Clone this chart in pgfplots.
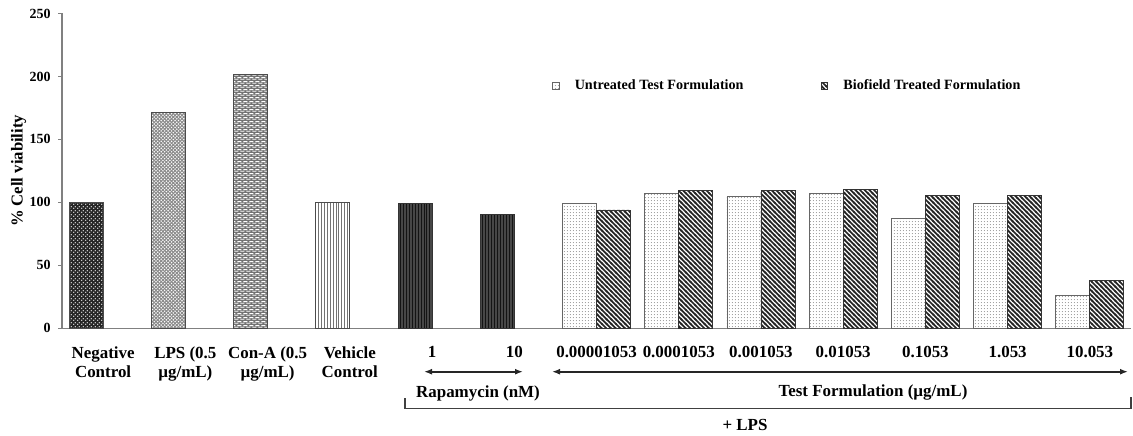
\documentclass[border=0pt]{standalone}
\usepackage{fontspec}
\setmainfont{Liberation Serif}
\usepackage{pgfplots}
\pgfplotsset{compat=1.18}
\usetikzlibrary{patterns,arrows.meta}

\pgfdeclarepatternformonly{boldnw}{\pgfqpoint{-1pt}{-1pt}}{\pgfqpoint{4.5pt}{4.5pt}}{\pgfqpoint{3.5pt}{3.5pt}}{%
  \pgfsetlinewidth{1.25pt}%
  \pgfpathmoveto{\pgfqpoint{-0.5pt}{4pt}}%
  \pgfpathlineto{\pgfqpoint{4pt}{-0.5pt}}%
  \pgfusepath{stroke}}
\pgfdeclarepatternformonly{finedots}{\pgfpointorigin}{\pgfqpoint{2.2pt}{2.2pt}}{\pgfqpoint{2.2pt}{2.2pt}}{%
  \pgfpathcircle{\pgfqpoint{1.1pt}{1.1pt}}{0.4pt}\pgfusepath{fill}}
\pgfdeclarepatternformonly{whitedots}{\pgfpointorigin}{\pgfqpoint{2.6pt}{2.6pt}}{\pgfqpoint{2.6pt}{2.6pt}}{%
  \pgfpathcircle{\pgfqpoint{0.65pt}{0.65pt}}{0.5pt}%
  \pgfpathcircle{\pgfqpoint{1.95pt}{1.95pt}}{0.5pt}\pgfusepath{fill}}
\pgfdeclarepatternformonly{lpscross}{\pgfqpoint{-0.5pt}{-0.5pt}}{\pgfqpoint{3.1pt}{3.1pt}}{\pgfqpoint{2.6pt}{2.6pt}}{%
  \pgfsetlinewidth{0.7pt}%
  \pgfpathmoveto{\pgfqpoint{-0.3pt}{-0.3pt}}\pgfpathlineto{\pgfqpoint{2.9pt}{2.9pt}}%
  \pgfpathmoveto{\pgfqpoint{-0.3pt}{2.9pt}}\pgfpathlineto{\pgfqpoint{2.9pt}{-0.3pt}}%
  \pgfusepath{stroke}}
\pgfdeclarepatternformonly{bricksmall}{\pgfpointorigin}{\pgfqpoint{4.4pt}{3pt}}{\pgfqpoint{4.4pt}{3pt}}{%
  \pgfsetlinewidth{0.8pt}%
  \pgfpathmoveto{\pgfqpoint{0.3pt}{0.75pt}}\pgfpathlineto{\pgfqpoint{3.3pt}{0.75pt}}%
  \pgfpathmoveto{\pgfqpoint{2.5pt}{2.25pt}}\pgfpathlineto{\pgfqpoint{4.4pt}{2.25pt}}%
  \pgfpathmoveto{\pgfqpoint{0pt}{2.25pt}}\pgfpathlineto{\pgfqpoint{1.1pt}{2.25pt}}%
  \pgfusepath{stroke}}
\pgfdeclarepatternformonly{vlinesfine}{\pgfqpoint{0pt}{-0.1pt}}{\pgfqpoint{2.2pt}{2.3pt}}{\pgfqpoint{2.2pt}{2.2pt}}{%
  \pgfsetlinewidth{0.55pt}%
  \pgfpathmoveto{\pgfqpoint{1.1pt}{-0.1pt}}\pgfpathlineto{\pgfqpoint{1.1pt}{2.3pt}}%
  \pgfusepath{stroke}}

\pgfplotsset{sqlegend/.style={legend image code/.code={%
  \draw[##1] (0pt,-2.4pt) rectangle (4.8pt,2.4pt);}}}

\begin{document}
\begin{tikzpicture}
\path[use as bounding box] (0,0) rectangle (849.75pt,-327pt);
\begin{axis}[
  at={(46.5pt,-246.2pt)}, anchor=south west,
  scale only axis, width=801.75pt, height=236.1pt,
  xmin=-0.5, xmax=12.5, ymin=0, ymax=250,
  axis x line*=bottom, axis y line*=left,
  axis line style={draw=black!50, line width=1pt},
  xtick={0,...,12},
  xticklabels={{Negative\\Control},{LPS (0.5\\µg/mL)},{Con-A (0.5\\µg/mL)},{Vehicle\\Control},1,10,0.00001053,0.0001053,0.001053,0.01053,0.1053,1.053,10.053},
  x tick style={draw=none},
  xticklabel style={font=\bfseries\fontsize{12.7pt}{14.6pt}\selectfont, align=center, anchor=north, yshift=-7pt},
  ytick={0,50,...,250},
  tick align=outside, major tick length=3pt,
  y tick style={draw=black!50, line width=0.8pt},
  yticklabel style={font=\bfseries\fontsize{10.5pt}{12pt}\selectfont, /pgf/number format/assume math mode=true, xshift=-2pt},
  ylabel={\% Cell viability},
  every axis y label/.style={at={(axis description cs:-0.0405,0.5)}, rotate=90, anchor=center,
    font=\bfseries\fontsize{12.5pt}{14pt}\selectfont},
  legend style={at={(0.4546,0.7697)}, anchor=west, draw=none, fill=none,
    font=\bfseries\fontsize{10.6pt}{12pt}\selectfont, legend columns=2,
    /tikz/every odd column/.append style={column sep=9.5pt},
    /tikz/every even column/.append style={column sep=56pt}},
  clip=false,
]
% single bars
\addplot[ybar, bar width=0.4135, bar shift=-0.2068, draw=black!70, line width=0.6pt,
  fill=black!85, postaction={pattern=whitedots, pattern color=white}, forget plot]
  coordinates {(0,100)};
\addplot[ybar, bar width=0.4135, bar shift=-0.2068, draw=black!70, line width=0.6pt,
  fill=white, postaction={pattern=lpscross, pattern color=black!45}, forget plot]
  coordinates {(1,171.5)};
\addplot[ybar, bar width=0.4135, bar shift=-0.2068, draw=black!70, line width=0.6pt,
  fill=black!55, postaction={pattern=bricksmall, pattern color=white}, forget plot]
  coordinates {(2,201.5)};
\addplot[ybar, bar width=0.4135, bar shift=-0.2068, draw=black!70, line width=0.6pt,
  fill=white, postaction={pattern=vlinesfine, pattern color=black!55}, forget plot]
  coordinates {(3,100)};
\addplot[ybar, bar width=0.4135, bar shift=-0.2068, draw=black!80, line width=0.6pt,
  fill=black!72, postaction={pattern=vlinesfine, pattern color=black!92}, forget plot]
  coordinates {(4,99) (5,90.5)};
% test formulation
\addplot[ybar, bar width=0.4135, bar shift=-0.2068, draw=black!60, line width=0.6pt,
  fill=white, postaction={pattern=finedots, pattern color=black!40}, sqlegend]
  coordinates {(6,99) (7,107) (8,105) (9,107) (10,87.5) (11,99.5) (12,26)};
\addlegendentry{Untreated Test Formulation}
\addplot[ybar, bar width=0.4135, bar shift=0.2068, draw=black!80, line width=0.6pt,
  fill=white, postaction={pattern=boldnw, pattern color=black!85}, sqlegend]
  coordinates {(6,94) (7,109.5) (8,109.5) (9,110) (10,105.5) (11,105.5) (12,38)};
\addlegendentry{Biofield Treated Formulation}
\end{axis}
\begin{scope}[x=0.75pt,y=-0.75pt]
  \draw[line width=1.2pt, black!85, {Latex[length=6pt,width=4.5pt]}-{Latex[length=6pt,width=4.5pt]}] (424,371.7) -- (523,371.7);
  \draw[line width=1.2pt, black!85, {Latex[length=6pt,width=4.5pt]}-{Latex[length=6pt,width=4.5pt]}] (552,371.7) -- (1128,371.7);
  \node[font=\bfseries\fontsize{12.7pt}{14.6pt}\selectfont] at (478,393) {Rapamycin (nM)};
  \node[font=\bfseries\fontsize{12.7pt}{14.6pt}\selectfont] at (873,392) {Test Formulation (µg/mL)};
  \draw[line width=1.1pt, black!75] (405,398) -- (405,408.5) -- (1131,408.5) -- (1131,397);
  \node[font=\bfseries\fontsize{12.7pt}{14.6pt}\selectfont] at (745,425) {+ LPS};
\end{scope}
\end{tikzpicture}
\end{document}
